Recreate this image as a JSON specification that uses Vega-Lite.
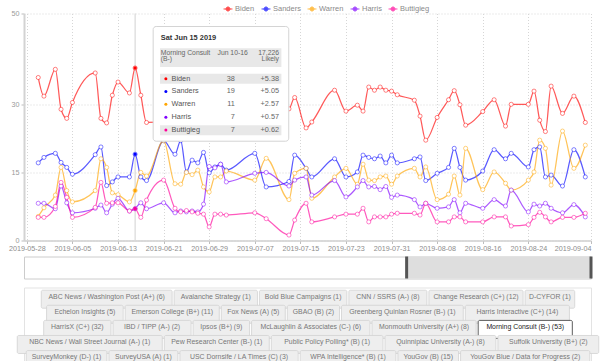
{
  "$schema": "https://vega.github.io/schema/vega-lite/v6.json",
  "padding": {"left": 8, "top": 3.5, "right": 0, "bottom": 0},
  "background": "white",
  "spacing": 6,
  "config": {
    "font": "Liberation Sans",
    "view": {"stroke": null}
  },
  "vconcat": [
    {
      "spacing": 2,
      "vconcat": [
        {
          "width": 567,
          "height": 227,
          "data": {
            "values": [
              {"date":"2019-05-30","Biden":35.9,"Sanders":17.1,"Warren":5.3,"Harris":8.2,"Buttigieg":5.1},
              {"date":"2019-05-31","Biden":31.8,"Sanders":18.3,"Warren":7.2,"Harris":8.2,"Buttigieg":5.1},
              {"date":"2019-06-02","Biden":37.7,"Sanders":19.2,"Warren":10.0,"Harris":7.0,"Buttigieg":7.5},
              {"date":"2019-06-03","Biden":28.9,"Sanders":17.2,"Warren":16.1,"Harris":12.0,"Buttigieg":12.8},
              {"date":"2019-06-04","Biden":26.9,"Sanders":16.1,"Warren":11.0,"Harris":8.3,"Buttigieg":9.5},
              {"date":"2019-06-05","Biden":30.4,"Sanders":14.6,"Warren":8.5,"Harris":6.1,"Buttigieg":5.1},
              {"date":"2019-06-09","Biden":36.9,"Sanders":18.9,"Warren":11.0,"Harris":7.1,"Buttigieg":7.3},
              {"date":"2019-06-10","Biden":26.9,"Sanders":20.6,"Warren":18.0,"Harris":7.8,"Buttigieg":12.8},
              {"date":"2019-06-11","Biden":25.9,"Sanders":12.1,"Warren":16.1,"Harris":6.1,"Buttigieg":8.2},
              {"date":"2019-06-12","Biden":32.0,"Sanders":12.9,"Warren":10.5,"Harris":8.0,"Buttigieg":8.3},
              {"date":"2019-06-13","Biden":34.9,"Sanders":14.0,"Warren":10.1,"Harris":9.3,"Buttigieg":8.3},
              {"date":"2019-06-15","Biden":32.5,"Sanders":14.0,"Warren":8.5,"Harris":6.5,"Buttigieg":6.5},
              {"date":"2019-06-16","Biden":38,"Sanders":19,"Warren":11,"Harris":7,"Buttigieg":7},
              {"date":"2019-06-17","Biden":32.0,"Sanders":14.0,"Warren":15.0,"Harris":8.3,"Buttigieg":5.1},
              {"date":"2019-06-18","Biden":26.0,"Sanders":13.2,"Warren":14.2,"Harris":7.0,"Buttigieg":8.9},
              {"date":"2019-06-21","Sanders":22.0,"Warren":22.0,"Harris":8.3,"Buttigieg":13.3},
              {"date":"2019-06-23","Sanders":19.0,"Warren":12.5,"Harris":6.1,"Buttigieg":7.1},
              {"date":"2019-06-24","Sanders":22.0,"Warren":12.4,"Harris":6.5,"Buttigieg":6.3},
              {"date":"2019-06-25","Sanders":15.1,"Warren":15.0,"Harris":6.3,"Buttigieg":6.6},
              {"date":"2019-06-26","Sanders":17.7,"Warren":14.5,"Harris":6.5,"Buttigieg":6.3},
              {"date":"2019-06-27","Sanders":17.1,"Warren":15.5,"Harris":6.3,"Buttigieg":6.0},
              {"date":"2019-06-28","Sanders":19.4,"Warren":11.8,"Harris":8.0,"Buttigieg":5.8},
              {"date":"2019-06-29","Sanders":14.9,"Warren":10.7,"Harris":16.3,"Buttigieg":3.0},
              {"date":"2019-06-30","Sanders":16.2,"Warren":14.0,"Harris":16.0,"Buttigieg":5.8},
              {"date":"2019-07-01","Sanders":16.8,"Warren":14.0,"Harris":16.8,"Buttigieg":5.8},
              {"date":"2019-07-02","Sanders":15.5,"Warren":15.3,"Harris":12.9,"Buttigieg":5.6},
              {"date":"2019-07-07","Sanders":19.2,"Warren":13.3,"Harris":14.8,"Buttigieg":6.1},
              {"date":"2019-07-09","Sanders":11.8,"Warren":18.1,"Harris":15.0,"Buttigieg":4.8},
              {"date":"2019-07-13","Biden":29.0,"Sanders":13.0,"Warren":9.0,"Harris":12.0,"Buttigieg":1.2},
              {"date":"2019-07-14","Biden":31.5,"Sanders":18.8,"Warren":14.8,"Harris":13.3,"Buttigieg":4.5},
              {"date":"2019-07-16","Biden":24.8,"Sanders":15.9,"Warren":15.9,"Harris":14.0,"Buttigieg":8.2},
              {"date":"2019-07-17","Biden":26.1,"Sanders":14.0,"Warren":9.3,"Harris":10.0,"Buttigieg":4.1},
              {"date":"2019-07-21","Biden":33.1,"Sanders":18.0,"Warren":14.0,"Harris":13.2,"Buttigieg":5.2},
              {"date":"2019-07-23","Biden":28.5,"Sanders":14.0,"Warren":15.9,"Harris":9.6,"Buttigieg":5.8},
              {"date":"2019-07-25","Biden":29.8,"Sanders":15.1,"Warren":12.4,"Harris":11.8,"Buttigieg":5.8},
              {"date":"2019-07-26","Biden":28.5,"Sanders":18.8,"Warren":16.8,"Harris":13.2,"Buttigieg":7.1},
              {"date":"2019-07-27","Biden":33.8,"Sanders":18.3,"Warren":13.3,"Harris":11.8,"Buttigieg":4.1},
              {"date":"2019-07-28","Biden":33.1,"Sanders":18.0,"Warren":13.2,"Harris":11.9,"Buttigieg":5.2},
              {"date":"2019-07-29","Biden":33.8,"Sanders":18.6,"Warren":14.0,"Harris":11.2,"Buttigieg":5.2},
              {"date":"2019-07-30","Biden":33.1,"Sanders":17.1,"Warren":14.2,"Harris":11.9,"Buttigieg":5.2},
              {"date":"2019-07-31","Biden":32.9,"Sanders":18.8,"Warren":12.4,"Harris":9.5,"Buttigieg":5.8},
              {"date":"2019-08-01","Biden":32.1,"Sanders":17.1,"Warren":14.2,"Harris":10.0,"Buttigieg":6.0},
              {"date":"2019-08-04","Biden":30.9,"Sanders":18.0,"Warren":15.9,"Harris":9.0,"Buttigieg":6.0},
              {"date":"2019-08-05","Biden":27.4,"Sanders":18.4,"Warren":14.0,"Harris":7.4,"Buttigieg":5.6},
              {"date":"2019-08-06","Biden":22.1,"Sanders":13.2,"Warren":16.2,"Harris":8.2,"Buttigieg":8.2},
              {"date":"2019-08-08","Biden":27.1,"Sanders":14.8,"Warren":9.0,"Harris":7.1,"Buttigieg":4.1},
              {"date":"2019-08-10","Biden":31.0,"Sanders":16.1,"Warren":10.2,"Harris":7.4,"Buttigieg":4.1},
              {"date":"2019-08-11","Biden":33.0,"Sanders":20.3,"Warren":14.2,"Harris":9.0,"Buttigieg":5.2},
              {"date":"2019-08-12","Biden":29.9,"Sanders":16.1,"Warren":10.0,"Harris":6.1,"Buttigieg":5.2},
              {"date":"2019-08-13","Biden":25.4,"Sanders":13.3,"Warren":20.3,"Harris":8.2,"Buttigieg":4.1},
              {"date":"2019-08-16","Biden":28.4,"Sanders":15.3,"Warren":11.2,"Harris":7.1,"Buttigieg":4.1},
              {"date":"2019-08-18","Biden":31.0,"Sanders":20.0,"Warren":15.1,"Harris":9.0,"Buttigieg":5.2},
              {"date":"2019-08-20","Biden":25.2,"Sanders":18.0,"Warren":12.6,"Harris":7.6,"Buttigieg":5.2},
              {"date":"2019-08-21","Biden":30.0,"Sanders":19.2,"Warren":11.1,"Harris":11.1,"Buttigieg":3.2},
              {"date":"2019-08-24","Biden":30.0,"Sanders":16.2,"Warren":13.3,"Harris":6.3,"Buttigieg":3.5},
              {"date":"2019-08-25","Biden":32.9,"Sanders":20.0,"Warren":15.1,"Harris":8.0,"Buttigieg":5.1},
              {"date":"2019-08-26","Biden":26.5,"Sanders":20.6,"Warren":22.1,"Harris":7.6,"Buttigieg":6.2},
              {"date":"2019-08-27","Biden":24.0,"Sanders":14.0,"Warren":20.3,"Harris":8.2,"Buttigieg":5.2},
              {"date":"2019-08-28","Biden":34.0,"Sanders":14.4,"Warren":12.2,"Harris":7.1,"Buttigieg":4.1},
              {"date":"2019-08-30","Biden":28.0,"Sanders":12.0,"Warren":24.1,"Harris":6.1,"Buttigieg":5.1},
              {"date":"2019-09-01","Biden":31.8,"Sanders":20.0,"Warren":15.9,"Harris":7.9,"Buttigieg":5.1},
              {"date":"2019-09-03","Biden":26.0,"Sanders":14.0,"Warren":21.0,"Harris":5.2,"Buttigieg":6.0}
            ],
            "format": {"parse": {"date": "utc:'%Y-%m-%d'"}}
          },
          "transform": [
            {"fold": ["Biden", "Sanders", "Warren", "Harris", "Buttigieg"], "as": ["candidate", "pct"]},
            {"filter": "isValid(datum.pct)"}
          ],
          "layer": [
            {
              "data": {"values": [{}]},
              "mark": {"type": "rule", "color": "#d9d9d9", "strokeWidth": 1.2},
              "encoding": {
                "x": {"datum": {"year": 2019, "month": 6, "date": 16, "utc": true}, "type": "temporal"}
              }
            },
            {
              "mark": {"type": "line", "interpolate": "monotone", "strokeWidth": 1.25, "opacity": 0.65},
              "encoding": {
                "x": {
                  "field": "date", "type": "temporal",
                  "scale": {"type": "utc", "domain": [{"year": 2019, "month": 5, "date": 27, "hours": 12, "utc": true}, {"year": 2019, "month": 9, "date": 4, "utc": true}]},
                  "axis": {
                    "title": null,
                    "values": [
                      {"year": 2019, "month": 5, "date": 28, "utc": true},
                      {"year": 2019, "month": 6, "date": 5, "utc": true},
                      {"year": 2019, "month": 6, "date": 13, "utc": true},
                      {"year": 2019, "month": 6, "date": 21, "utc": true},
                      {"year": 2019, "month": 6, "date": 29, "utc": true},
                      {"year": 2019, "month": 7, "date": 7, "utc": true},
                      {"year": 2019, "month": 7, "date": 15, "utc": true},
                      {"year": 2019, "month": 7, "date": 23, "utc": true},
                      {"year": 2019, "month": 7, "date": 31, "utc": true},
                      {"year": 2019, "month": 8, "date": 8, "utc": true},
                      {"year": 2019, "month": 8, "date": 16, "utc": true},
                      {"year": 2019, "month": 8, "date": 24, "utc": true},
                      {"year": 2019, "month": 9, "date": 4, "utc": true}
                    ],
                    "format": "%Y-%m-%d",
                    "labelFontSize": 7.2,
                    "labelColor": "#8c8c8c",
                    "labelPadding": 1,
                    "labelOverlap": false,
                    "labelAlign": {"condition": {"test": "datum.index === 1", "value": "right"}, "value": "center"},
                    "tickSize": 3,
                    "tickColor": "#bdbdbd",
                    "domainColor": "#cfcfcf",
                    "domainWidth": 1.5,
                    "grid": true,
                    "gridDash": [1, 2],
                    "gridColor": "#d6d6d6"
                  }
                },
                "y": {
                  "field": "pct", "type": "quantitative",
                  "scale": {"domain": [0, 50], "nice": false},
                  "axis": {
                    "title": null,
                    "values": [0, 15, 30, 50],
                    "labelFontSize": 7.2,
                    "labelColor": "#999999",
                    "labelPadding": 2,
                    "tickSize": 3,
                    "tickColor": "#bdbdbd",
                    "domainColor": "#d3d3d3",
                    "domainWidth": 2,
                    "grid": true,
                    "gridDash": [1, 2],
                    "gridColor": "#d6d6d6"
                  }
                },
                "color": {
                  "field": "candidate", "type": "nominal",
                  "scale": {"domain": ["Biden", "Sanders", "Warren", "Harris", "Buttigieg"], "range": ["#ff0000", "#0000ff", "#ffa500", "#8000ff", "#ff0099"]},
                  "legend": {
                    "orient": "none",
                    "legendX": 199,
                    "legendY": -10,
                    "direction": "horizontal",
                    "title": null,
                    "labelFontSize": 7.5,
                    "labelColor": "#8a8a8a",
                    "labelOffset": 2,
                    "columnPadding": 4,
                    "symbolType": "M-1,0L-0.45,0M0.45,0L1,0M0.45,0A0.45,0.45,0,1,1,-0.45,0A0.45,0.45,0,1,1,0.45,0",
                    "symbolSize": 80,
                    "symbolStrokeWidth": 1,
                    "symbolOpacity": 0.7
                  }
                }
              }
            },
            {
              "mark": {"type": "point", "filled": false, "fill": "white", "fillOpacity": 1, "size": 17, "strokeWidth": 0.9, "strokeOpacity": 0.55},
              "encoding": {
                "x": {"field": "date", "type": "temporal"},
                "y": {"field": "pct", "type": "quantitative"},
                "color": {"field": "candidate", "type": "nominal"}
              }
            },
            {
              "transform": [{"filter": "utcmonth(datum.date) === 5 && utcdate(datum.date) === 16"}],
              "mark": {"type": "circle", "size": 12, "opacity": 1},
              "encoding": {
                "x": {"field": "date", "type": "temporal"},
                "y": {"field": "pct", "type": "quantitative"},
                "fill": {"field": "candidate", "type": "nominal", "scale": {"domain": ["Biden", "Sanders", "Warren", "Harris", "Buttigieg"], "range": ["#ff0000", "#0000ff", "#ffa500", "#8000ff", "#ff0099"]}, "legend": null}
              }
            },
            {
              "data": {"values": [{}]},
              "mark": {"type": "rect", "fill": "white", "stroke": "#d4d4d4", "strokeWidth": 1, "cornerRadius": 3},
              "encoding": {
                "x": {"datum": {"year": 2019, "month": 6, "date": 19, "hours": 4, "utc": true}, "type": "temporal"},
                "x2": {"datum": {"year": 2019, "month": 7, "date": 12, "hours": 23, "utc": true}},
                "y": {"datum": 47.14, "type": "quantitative"},
                "y2": {"datum": 21.87}
              }
            },
            {
              "data": {"values": [{}]},
              "mark": {"type": "rect", "fill": "#e8e8e8"},
              "encoding": {
                "x": {"datum": {"year": 2019, "month": 6, "date": 20, "hours": 9, "utc": true}, "type": "temporal"},
                "x2": {"datum": {"year": 2019, "month": 7, "date": 11, "hours": 16, "utc": true}},
                "y": {"datum": 42.37, "type": "quantitative"},
                "y2": {"datum": 38.2}
              }
            },
            {
              "data": {"values": [{}]},
              "mark": {"type": "rect", "fill": "#e8e8e8"},
              "encoding": {
                "x": {"datum": {"year": 2019, "month": 6, "date": 20, "hours": 9, "utc": true}, "type": "temporal"},
                "x2": {"datum": {"year": 2019, "month": 7, "date": 11, "hours": 16, "utc": true}},
                "y": {"datum": 36.75, "type": "quantitative"},
                "y2": {"datum": 34.55}
              }
            },
            {
              "data": {"values": [{}]},
              "mark": {"type": "rect", "fill": "#e8e8e8"},
              "encoding": {
                "x": {"datum": {"year": 2019, "month": 6, "date": 20, "hours": 9, "utc": true}, "type": "temporal"},
                "x2": {"datum": {"year": 2019, "month": 7, "date": 11, "hours": 16, "utc": true}},
                "y": {"datum": 25.38, "type": "quantitative"},
                "y2": {"datum": 23.19}
              }
            },
            {
              "data": {"values": [{}]},
              "mark": {"type": "text", "align": "left", "baseline": "middle", "fontSize": 7.4, "fontWeight": "bold", "color": "#333333"},
              "encoding": {
                "x": {"datum": {"year": 2019, "month": 6, "date": 20, "hours": 12, "utc": true}, "type": "temporal"},
                "y": {"datum": 44.66, "type": "quantitative"},
                "text": {"value": "Sat Jun 15 2019"}
              }
            },
            {
              "data": {"values": [{}]},
              "mark": {"type": "text", "align": "left", "baseline": "middle", "fontSize": 6.8, "color": "#666666"},
              "encoding": {
                "x": {"datum": {"year": 2019, "month": 6, "date": 20, "hours": 12, "utc": true}, "type": "temporal"},
                "y": {"datum": 41.36, "type": "quantitative"},
                "text": {"value": "Morning Consult"}
              }
            },
            {
              "data": {"values": [{}]},
              "mark": {"type": "text", "align": "left", "baseline": "middle", "fontSize": 6.8, "color": "#666666"},
              "encoding": {
                "x": {"datum": {"year": 2019, "month": 6, "date": 20, "hours": 12, "utc": true}, "type": "temporal"},
                "y": {"datum": 40.04, "type": "quantitative"},
                "text": {"value": "(B-)"}
              }
            },
            {
              "data": {"values": [{}]},
              "mark": {"type": "text", "align": "left", "baseline": "middle", "fontSize": 6.8, "color": "#666666"},
              "encoding": {
                "x": {"datum": {"year": 2019, "month": 6, "date": 30, "hours": 11, "utc": true}, "type": "temporal"},
                "y": {"datum": 41.36, "type": "quantitative"},
                "text": {"value": "Jun 10-16"}
              }
            },
            {
              "data": {"values": [{}]},
              "mark": {"type": "text", "align": "right", "baseline": "middle", "fontSize": 6.8, "color": "#666666"},
              "encoding": {
                "x": {"datum": {"year": 2019, "month": 7, "date": 11, "hours": 6, "utc": true}, "type": "temporal"},
                "y": {"datum": 41.36, "type": "quantitative"},
                "text": {"value": "17,226"}
              }
            },
            {
              "data": {"values": [{}]},
              "mark": {"type": "text", "align": "right", "baseline": "middle", "fontSize": 6.8, "color": "#666666"},
              "encoding": {
                "x": {"datum": {"year": 2019, "month": 7, "date": 11, "hours": 6, "utc": true}, "type": "temporal"},
                "y": {"datum": 40.04, "type": "quantitative"},
                "text": {"value": "Likely"}
              }
            },
            {
              "data": {"name": "tip", "values": [
                {"candidate": "Biden", "pct": 38, "spread": "+5.38"},
                {"candidate": "Sanders", "pct": 19, "spread": "+5.05"},
                {"candidate": "Warren", "pct": 11, "spread": "+2.57"},
                {"candidate": "Harris", "pct": 7, "spread": "+0.57"},
                {"candidate": "Buttigieg", "pct": 7, "spread": "+0.62"}
              ]},
              "encoding": {
                "y": {"datum": 35.65, "type": "quantitative"},
                "yOffset": {"field": "candidate", "type": "nominal", "sort": ["Biden", "Sanders", "Warren", "Harris", "Buttigieg"], "scale": {"type": "point", "range": [0, 51.4], "padding": 0}}
              },
              "layer": [
                {
                  "mark": {"type": "circle", "size": 9, "opacity": 1},
                  "encoding": {
                    "x": {"datum": {"year": 2019, "month": 6, "date": 21, "hours": 9, "minutes": 30, "utc": true}, "type": "temporal"},
                    "fill": {"field": "candidate", "type": "nominal", "legend": null}
                  }
                },
                {
                  "mark": {"type": "text", "align": "left", "baseline": "middle", "fontSize": 7.3, "color": "#555555"},
                  "encoding": {
                    "x": {"datum": {"year": 2019, "month": 6, "date": 22, "hours": 9, "minutes": 30, "utc": true}, "type": "temporal"},
                    "text": {"field": "candidate"}
                  }
                },
                {
                  "mark": {"type": "text", "align": "right", "baseline": "middle", "fontSize": 7.3, "color": "#666666"},
                  "encoding": {
                    "x": {"datum": {"year": 2019, "month": 7, "date": 3, "hours": 12, "utc": true}, "type": "temporal"},
                    "text": {"field": "pct"}
                  }
                },
                {
                  "mark": {"type": "text", "align": "right", "baseline": "middle", "fontSize": 7.3, "color": "#666666"},
                  "encoding": {
                    "x": {"datum": {"year": 2019, "month": 7, "date": 11, "hours": 6, "utc": true}, "type": "temporal"},
                    "text": {"field": "spread"}
                  }
                }
              ]
            }
          ]
        },
        {
          "width": 567,
          "height": 22,
          "view": {"stroke": "#cccccc", "fill": "white"},
          "data": {"values": [{"from": "2019-08-02T15:30:00Z", "to": "2019-09-04T00:00:00Z"}]},
          "layer": [
            {
              "mark": {"type": "rect", "fill": "#dedede"},
              "encoding": {
                "x": {"field": "from", "type": "temporal", "scale": {"type": "utc", "domain": [{"year": 2019, "month": 5, "date": 27, "hours": 12, "utc": true}, {"year": 2019, "month": 9, "date": 4, "utc": true}]}, "axis": null},
                "x2": {"field": "to"}
              }
            },
            {
              "mark": {"type": "rule", "color": "#555555", "strokeWidth": 3},
              "encoding": {"x": {"field": "from", "type": "temporal"}}
            },
            {
              "mark": {"type": "rule", "color": "#555555", "strokeWidth": 3},
              "encoding": {"x": {"field": "to", "type": "temporal"}}
            }
          ]
        }
      ]
    },
    {
      "width": 567,
      "height": 94,
      "view": {"stroke": "#e3e3e3"},
      "data": {"values": [
        {"name": "ABC News / Washington Post", "grade": "A+", "polls": 6, "row": 1},
        {"name": "Avalanche Strategy", "grade": "", "polls": 1, "row": 1},
        {"name": "Bold Blue Campaigns", "grade": "", "polls": 1, "row": 1},
        {"name": "CNN / SSRS", "grade": "A-", "polls": 8, "row": 1},
        {"name": "Change Research", "grade": "C+", "polls": 12, "row": 1},
        {"name": "D-CYFOR", "grade": "", "polls": 1, "row": 1},
        {"name": "Echelon Insights", "grade": "", "polls": 5, "row": 2},
        {"name": "Emerson College", "grade": "B+", "polls": 11, "row": 2},
        {"name": "Fox News", "grade": "A", "polls": 5, "row": 2},
        {"name": "GBAO", "grade": "B", "polls": 2, "row": 2},
        {"name": "Greenberg Quinlan Rosner", "grade": "B-", "polls": 1, "row": 2},
        {"name": "Harris Interactive", "grade": "C+", "polls": 14, "row": 2},
        {"name": "HarrisX", "grade": "C+", "polls": 32, "row": 3},
        {"name": "IBD / TIPP", "grade": "A-", "polls": 2, "row": 3},
        {"name": "Ipsos", "grade": "B+", "polls": 9, "row": 3},
        {"name": "McLaughlin & Associates", "grade": "C-", "polls": 6, "row": 3},
        {"name": "Monmouth University", "grade": "A+", "polls": 8, "row": 3},
        {"name": "Morning Consult", "grade": "B-", "polls": 53, "row": 3},
        {"name": "NBC News / Wall Street Journal", "grade": "A-", "polls": 1, "row": 4},
        {"name": "Pew Research Center", "grade": "B-", "polls": 1, "row": 4},
        {"name": "Public Policy Polling*", "grade": "B", "polls": 1, "row": 4},
        {"name": "Quinnipiac University", "grade": "A-", "polls": 8, "row": 4},
        {"name": "Suffolk University", "grade": "B+", "polls": 2, "row": 4},
        {"name": "SurveyMonkey", "grade": "D-", "polls": 1, "row": 5},
        {"name": "SurveyUSA", "grade": "A", "polls": 1, "row": 5},
        {"name": "USC Dornsife / LA Times", "grade": "C", "polls": 3, "row": 5},
        {"name": "WPA Intelligence*", "grade": "B", "polls": 1, "row": 5},
        {"name": "YouGov", "grade": "B", "polls": 15, "row": 5},
        {"name": "YouGov Blue / Data for Progress", "grade": "", "polls": 2, "row": 5},
        {"name": "Zogby Interactive / JZ Analytics", "grade": "C", "polls": 3, "row": 6}
      ]},
      "transform": [
        {"calculate": "datum.name + (datum.grade ? ' (' + datum.grade + ')' : '') + ' (' + datum.polls + ')'", "as": "label"},
        {"calculate": "3.35 * length(datum.label) + 0.8 * length(replace(datum.label, regexp('[^A-Z]', 'g'), '')) + 10", "as": "w"},
        {"window": [{"op": "sum", "field": "w", "as": "cum"}], "groupby": ["row"], "frame": [null, 0]},
        {"joinaggregate": [{"op": "sum", "field": "w", "as": "tot"}], "groupby": ["row"]},
        {"calculate": "datum.cum - datum.w - datum.tot / 2 + 1", "as": "x1"},
        {"calculate": "datum.cum - datum.tot / 2 - 1", "as": "x2"},
        {"calculate": "datum.cum - datum.w / 2 - datum.tot / 2", "as": "xm"}
      ],
      "encoding": {
        "y": {"field": "row", "type": "ordinal", "axis": null, "scale": {"paddingInner": 0.13, "paddingOuter": 0.18}}
      },
      "layer": [
        {
          "mark": {"type": "bar", "cornerRadius": 1.5, "strokeWidth": 0.8},
          "encoding": {
            "x": {"field": "x1", "type": "quantitative", "scale": {"domain": [-284, 283], "nice": false, "zero": false}, "axis": null},
            "x2": {"field": "x2"},
            "fill": {"condition": {"test": "datum.name === 'Morning Consult'", "value": "#ffffff"}, "value": "#eeeeee"},
            "stroke": {"condition": {"test": "datum.name === 'Morning Consult'", "value": "#333333"}, "value": "#d2d2d2"}
          }
        },
        {
          "mark": {"type": "text", "fontSize": 6.9, "baseline": "middle"},
          "encoding": {
            "x": {"field": "xm", "type": "quantitative"},
            "text": {"field": "label"},
            "color": {"condition": {"test": "datum.name === 'Morning Consult'", "value": "#222222"}, "value": "#777777"},
            "fontWeight": {"condition": {"test": "datum.name === 'Morning Consult'", "value": "bold"}, "value": "normal"}
          }
        }
      ]
    }
  ]
}
